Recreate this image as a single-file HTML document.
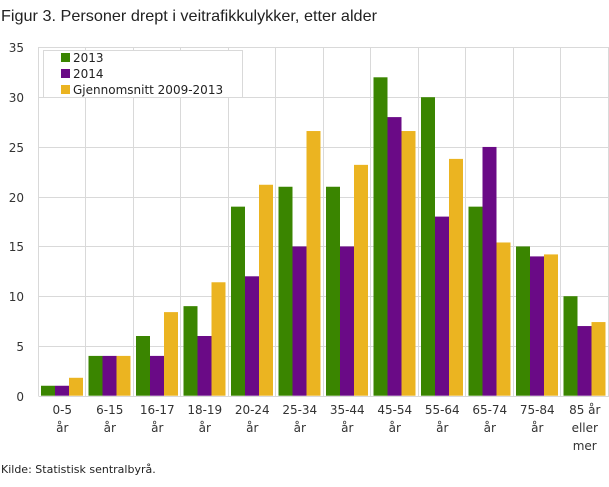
<!DOCTYPE html>
<html><head><meta charset="utf-8"><style>
body{margin:0;background:#fff;}
svg{display:block;font-family:"DejaVu Sans","Liberation Sans",sans-serif;}
</style></head><body>
<svg width="609" height="487" viewBox="0 0 609 487">
<text x="1" y="21" font-size="16" fill="#222" font-family="Liberation Sans, sans-serif" textLength="376" lengthAdjust="spacingAndGlyphs">Figur 3. Personer drept i veitrafikkulykker, etter alder</text>
<g id="grid" stroke="#d9d9d9" stroke-width="1"></g>
<g id="bars"></g>
<g id="labels" font-size="12" fill="#333"></g>
<rect x="43.5" y="50.5" width="199" height="47" fill="#fff" stroke="#d9d9d9"/>
<rect x="61" y="53" width="9" height="9" fill="#3a8500"/>
<rect x="61" y="69" width="9" height="9" fill="#6a0a86"/>
<rect x="61" y="85" width="9" height="9" fill="#ebb421"/>
<g font-size="12" fill="#222">
<text x="73" y="62">2013</text>
<text x="73" y="78">2014</text>
<text x="73" y="94">Gjennomsnitt 2009-2013</text>
</g>
<text x="1" y="473" font-size="11" fill="#222">Kilde: Statistisk sentralbyrå.</text>
</svg>
<script>
var ns="http://www.w3.org/2000/svg";
function el(p,t,a,txt){var e=document.createElementNS(ns,t);for(var k in a)e.setAttribute(k,a[k]);if(txt!==undefined)e.textContent=txt;document.getElementById(p).appendChild(e);return e;}
var y0=395.7,u=9.95,L=38.5,W=47.5;
for(var v=0;v<=35;v+=5){var y=Math.round(y0-v*u)+0.5;el("grid","line",{x1:L,x2:609,y1:y,y2:y});el("labels","text",{x:24,y:y+4.5,"text-anchor":"end"},v);}
for(var i=0;i<=12;i++){var x=Math.round(L+i*W)-0.5;el("grid","line",{x1:x,x2:x,y1:47,y2:396});}
var d1=[1,4,6,9,19,21,21,32,30,19,15,10],d2=[1,4,4,6,12,15,15,28,18,25,14,7],d3=[1.8,4,8.4,11.4,21.2,26.6,23.2,26.6,23.8,15.4,14.2,7.4];
var cols=["#3a8500","#6a0a86","#ebb421"],ds=[d1,d2,d3];
var labs=[["0-5","år"],["6-15","år"],["16-17","år"],["18-19","år"],["20-24","år"],["25-34","år"],["35-44","år"],["45-54","år"],["55-64","år"],["65-74","år"],["75-84","år"],["85 år","eller","mer"]];
for(var i=0;i<12;i++){var gx=L+i*W+2.5;
for(var s=0;s<3;s++){var h=ds[s][i]*u;el("bars","rect",{x:gx+s*14,y:y0-h,width:14,height:h,fill:cols[s]});}
var cx=L+i*W+W/2;for(var j=0;j<labs[i].length;j++)el("labels","text",{x:cx,y:414+j*18,"text-anchor":"middle"},labs[i][j]);}
</script>
</body></html>
